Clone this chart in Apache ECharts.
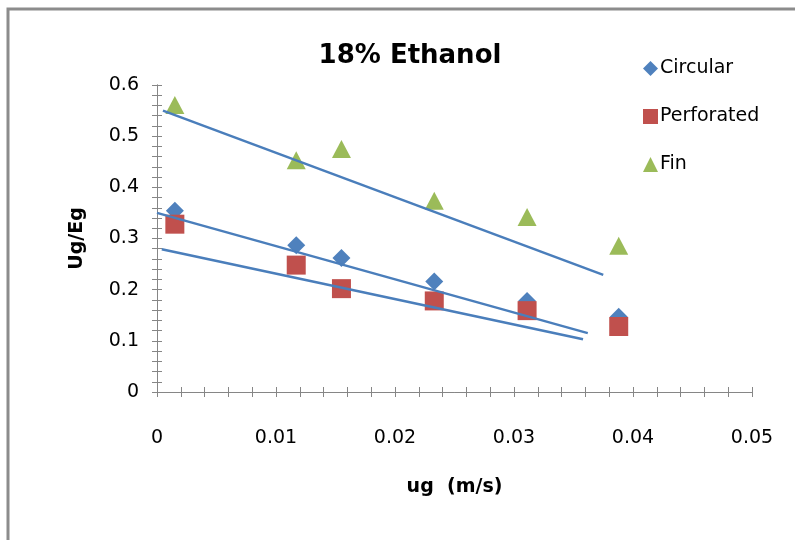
<!DOCTYPE html>
<html>
<head>
<meta charset="utf-8">
<script src="https://cdn.jsdelivr.net/npm/echarts@6/dist/echarts.min.js"></script>
<style>
  html, body { margin: 0; padding: 0; background: #fff; }
  #chart { width: 795px; height: 540px; }
</style>
</head>
<body>
<div id="chart"></div>
<script>
// gas velocity ug (m/s)
const ugValues = [0.0015, 0.0117, 0.0155, 0.0233, 0.0311, 0.0388];

// Ug/Eg per sparger type
const circular = [0.354, 0.287, 0.262, 0.216, 0.178, 0.147];
const perforated = [0.328, 0.248, 0.202, 0.178, 0.159, 0.128];
const fin = [0.561, 0.453, 0.475, 0.374, 0.342, 0.286];

// trendline end points
const circularTrend = [[0, 0.350], [0.0362, 0.115]];
const perforatedTrend = [[0.0004, 0.279], [0.0358, 0.103]];
const finTrend = [[0.0005, 0.550], [0.0375, 0.229]];

const seriesNames = ['Circular', 'Perforated', 'Fin'];

const pairs = ys => ugValues.map((x, i) => [x, ys[i]]);

const font = 'DejaVu Sans';
const axisGray = '#868686';
const trendColor = '#4A7EBB';

const gridBox = { left: 157, right: 43, top: 85, bottom: 148 };
const gridW = 795 - gridBox.left - gridBox.right;
const gridH = 540 - gridBox.top - gridBox.bottom;

const chart = echarts.init(document.getElementById('chart'));

const axisBase = (min, max, interval) => ({
  type: 'value',
  min: min,
  max: max,
  interval: interval,
  splitLine: { show: false },
  axisLine: { show: true, onZero: false, lineStyle: { color: axisGray, width: 1 } },
  axisTick: { show: true, length: 5, lineStyle: { color: axisGray, width: 1 } },
  minorTick: { show: true, splitNumber: 5, length: 5, lineStyle: { color: axisGray, width: 1 } },
});

const trendSeries = (name, data) => ({
  name: name,
  type: 'line',
  xAxisIndex: 1,
  yAxisIndex: 1,
  showSymbol: false,
  symbol: 'none',
  lineStyle: { color: trendColor, width: 2.5 },
  data: data,
  z: 5,
});

const option = {
  animation: false,
  backgroundColor: '#fff',
  textStyle: { fontFamily: font },
  title: {
    text: '18% Ethanol',
    left: 405,
    top: 38,
    textAlign: 'center',
    textStyle: { fontFamily: font, fontSize: 26, fontWeight: 'bold', color: '#000' },
  },
  legend: {
    data: seriesNames,
    orient: 'vertical',
    left: 638,
    top: 54,
    itemWidth: 15,
    itemHeight: 15,
    itemGap: 29,
    textStyle: { fontFamily: font, fontSize: 19, color: '#000', padding: [0, 0, 0, -3] },
  },
  graphic: [
    {
      type: 'rect',
      shape: { x: 8, y: 9, width: 1200, height: 1200 },
      style: { fill: 'none', stroke: '#8c8c8c', lineWidth: 3 },
      z: 100,
    },
  ],
  grid: gridBox,
  xAxis: [
    Object.assign(axisBase(0, 0.05, 0.01), {
      position: 'bottom',
      name: 'ug  (m/s)',
      nameLocation: 'middle',
      nameGap: 86,
      nameTextStyle: { fontFamily: font, fontSize: 19, fontWeight: 'bold', color: '#000' },
      axisLabel: { margin: 37, fontFamily: font, fontSize: 19, color: '#000' },
    }),
    // top axis pushed down onto the bottom line: its outward ticks point into the plot
    Object.assign(axisBase(0, 0.05, 0.01), {
      position: 'top',
      offset: -gridH,
      axisLabel: { show: false },
    }),
  ],
  yAxis: [
    Object.assign(axisBase(0, 0.6, 0.1), {
      position: 'left',
      name: 'Ug/Eg',
      nameLocation: 'middle',
      nameGap: 70,
      nameTextStyle: { fontFamily: font, fontSize: 19, fontWeight: 'bold', color: '#000' },
      axisLabel: { margin: 18, fontFamily: font, fontSize: 19, color: '#000' },
    }),
    // right axis pulled onto the left line for the crossing ticks
    Object.assign(axisBase(0, 0.6, 0.1), {
      position: 'right',
      offset: -gridW,
      axisLabel: { show: false },
    }),
  ],
  series: [
    {
      name: 'Circular',
      type: 'scatter',
      symbol: 'diamond',
      symbolSize: 18,
      itemStyle: { color: '#4F81BD', opacity: 1 },
      data: pairs(circular),
      z: 2,
    },
    {
      name: 'Perforated',
      type: 'scatter',
      symbol: 'rect',
      symbolSize: 19,
      itemStyle: { color: '#C0504D', opacity: 1 },
      data: pairs(perforated),
      z: 3,
    },
    {
      name: 'Fin',
      type: 'scatter',
      symbol: 'triangle',
      symbolSize: [19, 18],
      itemStyle: { color: '#9BBB59', opacity: 1 },
      data: pairs(fin),
      z: 4,
    },
    trendSeries('Circular trend', circularTrend),
    trendSeries('Perforated trend', perforatedTrend),
    trendSeries('Fin trend', finTrend),
  ],
};

chart.setOption(option);
</script>
</body>
</html>
